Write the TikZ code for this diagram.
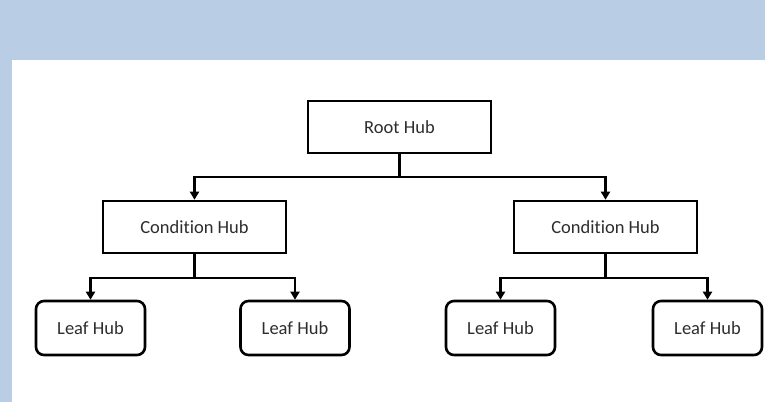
\documentclass[tikz,border=0pt]{standalone}
\usepackage{fontspec}
\setmainfont[Ligatures={NoCommon}]{Carlito}
\usetikzlibrary{arrows.meta}
\definecolor{bandblue}{RGB}{185,205,228}
\definecolor{txt}{RGB}{45,45,45}
\tikzset{
  hubbox/.style={draw=black, line width=2.6pt, fill=white, minimum width=183pt, minimum height=52pt, inner sep=0pt, font=\fontsize{18.5}{20}\selectfont, text=txt},
  leafbox/.style={draw=black, line width=2.6pt, fill=white, rounded corners=8pt, minimum width=109pt, minimum height=54pt, inner sep=0pt, font=\fontsize{18.5}{20}\selectfont, text=txt},
  link/.style={draw=black, line width=2.4pt},
  arrowlink/.style={link, -{Triangle[width=9pt,length=8pt]}}
}
\begin{document}
\begin{tikzpicture}[x=1pt,y=-1pt]
  \useasboundingbox (0,0) rectangle (765,402);
  \fill[bandblue] (0,0) rectangle (765,402);
  \fill[white] (12,60) rectangle (765,402);

  \node[hubbox] (root) at (399.5,127) {Root Hub};
  \node[hubbox] (condL) at (194.5,227) {Condition Hub};
  \node[hubbox] (condR) at (605.5,227) {Condition Hub};

  \node[leafbox] (leaf1) at (90.5,328) {Leaf Hub};
  \node[leafbox] (leaf2) at (295,328) {Leaf Hub};
  \node[leafbox] (leaf3) at (500.5,328) {Leaf Hub};
  \node[leafbox] (leaf4) at (707.5,328) {Leaf Hub};

  \coordinate (j0) at (399.5,177);
  \coordinate (j1) at (194.5,278);
  \coordinate (j2) at (605.5,278);

  \draw[link] (root.south) -- (j0);
  \draw[arrowlink] (j0) -| (condL.north);
  \draw[arrowlink] (j0) -| (condR.north);

  \draw[link] (condL.south) -- (j1);
  \draw[arrowlink] (j1) -| (leaf1.north);
  \draw[arrowlink] (j1) -| (leaf2.north);

  \draw[link] (condR.south) -- (j2);
  \draw[arrowlink] (j2) -| (leaf3.north);
  \draw[arrowlink] (j2) -| (leaf4.north);
\end{tikzpicture}
\end{document}
